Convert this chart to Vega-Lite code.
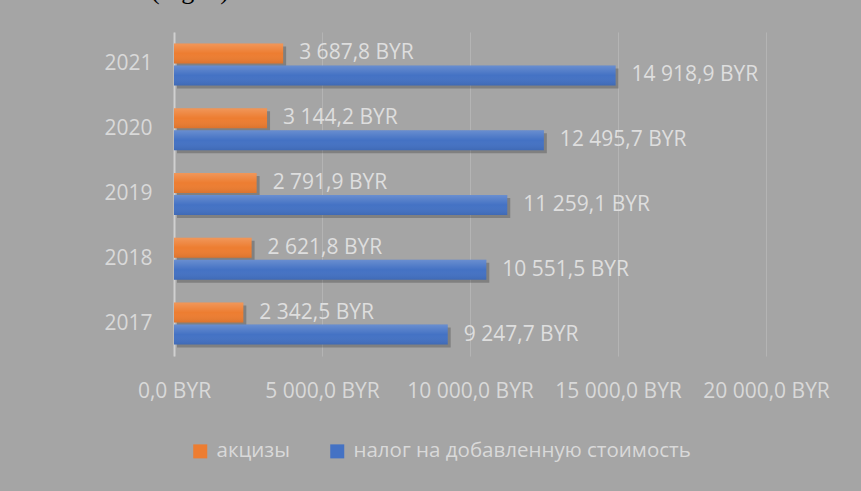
{
  "$schema": "https://vega.github.io/schema/vega-lite/v6.json",
  "width": 592,
  "height": 324,
  "autosize": {"type": "none"},
  "padding": {"left": 174, "top": 32, "right": 95, "bottom": 135},
  "background": "#a5a5a5",
  "title": {"text": "d excise taxes (Fig. 1).", "anchor": "start", "frame": "group", "font": "Liberation Serif", "fontSize": 26, "fontWeight": "normal", "color": "#000000", "baseline": "alphabetic", "offset": 7, "dx": -174},
  "config": {
    "locale": {"number": {"decimal": ",", "thousands": " ", "grouping": [3], "currency": ["", " BYR"]}},
    "view": {"stroke": null},
    "font": "Open Sans"
  },
  "data": {"values": [
    {"year": "2017", "series": "акцизы", "value": 2342.5},
    {"year": "2017", "series": "налог на добавленную стоимость", "value": 9247.7},
    {"year": "2018", "series": "акцизы", "value": 2621.8},
    {"year": "2018", "series": "налог на добавленную стоимость", "value": 10551.5},
    {"year": "2019", "series": "акцизы", "value": 2791.9},
    {"year": "2019", "series": "налог на добавленную стоимость", "value": 11259.1},
    {"year": "2020", "series": "акцизы", "value": 3144.2},
    {"year": "2020", "series": "налог на добавленную стоимость", "value": 12495.7},
    {"year": "2021", "series": "акцизы", "value": 3687.8},
    {"year": "2021", "series": "налог на добавленную стоимость", "value": 14918.9}
  ]},
  "encoding": {
    "y": {"field": "year", "type": "ordinal", "sort": "descending",
      "scale": {"paddingInner": 0.35, "paddingOuter": 0.175},
      "axis": {"title": null, "labelFontSize": 21, "labelColor": "#d9d9d9", "labelPadding": 22, "ticks": false, "domain": true, "domainColor": "#d0d0d0", "domainWidth": 2, "grid": false, "labelFont": "Open Sans"}},
    "x": {"field": "value", "type": "quantitative",
      "scale": {"domain": [0, 20000], "nice": false},
      "axis": {"title": null, "format": "$,.1f", "values": [0, 5000, 10000, 15000, 20000], "labelFontSize": 21, "labelColor": "#d9d9d9", "labelPadding": 24, "labelOverlap": false, "labelFlush": false, "labelBound": false, "domain": false, "ticks": false, "grid": true, "gridColor": "#b4b4b4", "labelFont": "Open Sans"}}
  },
  "layer": [
    {"transform": [{"filter": "datum.series == 'акцизы'"}],
     "mark": {"type": "bar", "fill": "#000000", "opacity": 0.22, "height": 20, "yOffset": -8, "xOffset": 3}},
    {"transform": [{"filter": "datum.series != 'акцизы'"}],
     "mark": {"type": "bar", "fill": "#000000", "opacity": 0.22, "height": 20, "yOffset": 14, "xOffset": 3}},
    {"transform": [{"filter": "datum.series == 'акцизы'"}],
     "mark": {"type": "bar", "height": 20, "yOffset": -11},
     "encoding": {"color": {"field": "series", "type": "nominal",
       "scale": {"domain": ["акцизы", "налог на добавленную стоимость"], "range": ["#ed7d31", "#4472c4"]},
       "legend": {"orient": "none", "legendX": 16, "legendY": 409, "direction": "horizontal", "title": null, "symbolType": "square", "symbolSize": 196, "symbolStrokeWidth": 0, "labelFontSize": 20.5, "labelColor": "#d9d9d9", "labelFont": "Open Sans", "labelLimit": 600, "columnPadding": 36, "labelOffset": 6}}}},
    {"transform": [{"filter": "datum.series != 'акцизы'"}],
     "mark": {"type": "bar", "height": 20, "yOffset": 11},
     "encoding": {"color": {"field": "series", "type": "nominal"}}},
    {"mark": {"type": "bar", "height": 20, "yOffset": -11,
       "fill": {"gradient": "linear", "x1": 0, "y1": 0, "x2": 0, "y2": 1, "stops": [{"offset": 0, "color": "rgba(255,255,255,0.2)"}, {"offset": 0.5, "color": "rgba(255,255,255,0)"}, {"offset": 1, "color": "rgba(0,0,0,0.08)"}]}},
     "transform": [{"filter": "datum.series == 'акцизы'"}]},
    {"mark": {"type": "bar", "height": 20, "yOffset": 11,
       "fill": {"gradient": "linear", "x1": 0, "y1": 0, "x2": 0, "y2": 1, "stops": [{"offset": 0, "color": "rgba(255,255,255,0.2)"}, {"offset": 0.5, "color": "rgba(255,255,255,0)"}, {"offset": 1, "color": "rgba(0,0,0,0.08)"}]}},
     "transform": [{"filter": "datum.series != 'акцизы'"}]},
    {"transform": [{"filter": "datum.series == 'акцизы'"}],
     "mark": {"type": "text", "align": "left", "baseline": "middle", "dx": 16, "yOffset": -11, "fontSize": 21, "color": "#dedede", "font": "Open Sans"},
     "encoding": {"text": {"field": "value", "type": "quantitative", "format": "$,.1f"}}},
    {"transform": [{"filter": "datum.series != 'акцизы'"}],
     "mark": {"type": "text", "align": "left", "baseline": "middle", "dx": 16, "yOffset": 11, "fontSize": 21, "color": "#dedede", "font": "Open Sans"},
     "encoding": {"text": {"field": "value", "type": "quantitative", "format": "$,.1f"}}}
  ]
}
